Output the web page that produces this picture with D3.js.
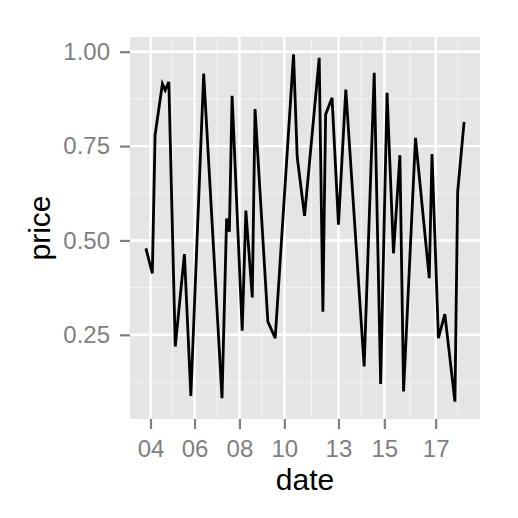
<!DOCTYPE html>
<html>
<head>
<meta charset="utf-8">
<script src="https://cdn.jsdelivr.net/npm/d3@7"></script>
<style>
  body { margin: 0; background: #ffffff; }
  text { font-family: "Liberation Sans", Arial, Helvetica, sans-serif; }
</style>
</head>
<body>
<div id="chart"></div>
<script>
// time series
var dates = [
  "2014-12-04 11:00", "2014-12-04 18:00", "2014-12-04 21:00", "2014-12-05 05:00",
  "2014-12-05 08:00", "2014-12-05 12:00", "2014-12-05 19:00", "2014-12-06 05:00",
  "2014-12-06 12:00", "2014-12-07 02:00", "2014-12-07 22:00", "2014-12-08 03:00",
  "2014-12-08 06:00", "2014-12-08 09:00", "2014-12-08 20:00", "2014-12-09 00:00",
  "2014-12-09 07:00", "2014-12-09 10:00", "2014-12-10 00:00", "2014-12-10 08:00",
  "2014-12-11 04:00", "2014-12-11 08:00", "2014-12-11 16:00", "2014-12-12 08:00",
  "2014-12-12 12:00", "2014-12-12 15:00", "2014-12-12 22:00", "2014-12-13 05:00",
  "2014-12-13 13:00", "2014-12-14 09:00", "2014-12-14 20:00", "2014-12-15 03:00",
  "2014-12-15 10:00", "2014-12-15 17:00", "2014-12-16 00:00", "2014-12-16 04:00",
  "2014-12-16 17:00", "2014-12-17 08:00", "2014-12-17 11:00", "2014-12-17 18:00",
  "2014-12-18 01:00", "2014-12-18 12:00", "2014-12-18 15:00", "2014-12-18 22:00"
];
var prices = [
  0.479, 0.413, 0.779, 0.915, 0.898, 0.920, 0.219, 0.464,
  0.088, 0.942, 0.082, 0.558, 0.523, 0.883, 0.261, 0.579,
  0.349, 0.848, 0.285, 0.241, 0.993, 0.721, 0.565, 0.984,
  0.311, 0.834, 0.878, 0.542, 0.900, 0.166, 0.944, 0.120,
  0.891, 0.466, 0.726, 0.100, 0.772, 0.400, 0.729, 0.241,
  0.305, 0.073, 0.629, 0.814
];

// axis breaks
var xBreaks = ["2014-12-04 16:00", "2014-12-06 16:00", "2014-12-08 17:00", "2014-12-10 18:00",
               "2014-12-13 05:00", "2014-12-15 07:00", "2014-12-17 15:00"];
var yBreaks = [0.25, 0.50, 0.75, 1.00];

var parseTime = d3.utcParse("%Y-%m-%d %H:%M");

var svgWidth = 518;
var svgHeight = 518;
var margin = { top: 37, right: 38, bottom: 99, left: 130 };
var width = svgWidth - margin.left - margin.right;
var height = svgHeight - margin.top - margin.bottom;

var data = dates.map(function(d, i) {
  return { date: parseTime(d), price: prices[i] };
});

var svg = d3.select("#chart")
  .append("svg")
  .attr("width", svgWidth)
  .attr("height", svgHeight);

var chartGroup = svg.append("g")
  .attr("transform", `translate(${margin.left}, ${margin.top})`);

// ggplot style 5% expansion
var xExt = d3.extent(data, d => d.date.getTime());
var xPad = (xExt[1] - xExt[0]) * 0.05;
var xScale = d3.scaleUtc()
  .domain([new Date(xExt[0] - xPad), new Date(xExt[1] + xPad)])
  .range([0, width]);

var yExt = d3.extent(data, d => d.price);
var yPad = (yExt[1] - yExt[0]) * 0.05;
var yScale = d3.scaleLinear()
  .domain([yExt[0] - yPad, yExt[1] + yPad])
  .range([height, 0]);

var xMajor = xBreaks.map(parseTime);
var step = xMajor[1] - xMajor[0];
var xExtended = [new Date(xMajor[0] - step)].concat(xMajor, [new Date(+xMajor[xMajor.length - 1] + step)]);
var xMinor = d3.pairs(xExtended).map(p => new Date((+p[0] + +p[1]) / 2))
  .filter(d => d >= xScale.domain()[0] && d <= xScale.domain()[1]);
var yMinor = d3.pairs([0].concat(yBreaks)).map(p => (p[0] + p[1]) / 2);

// panel
chartGroup.append("rect")
  .attr("width", width)
  .attr("height", height)
  .attr("fill", "#e5e5e5");

chartGroup.selectAll(".xminor").data(xMinor).enter()
  .append("line")
  .attr("x1", d => xScale(d)).attr("x2", d => xScale(d))
  .attr("y1", 0).attr("y2", height)
  .attr("stroke", "#f2f2f2").attr("stroke-width", 1.2);

chartGroup.selectAll(".yminor").data(yMinor).enter()
  .append("line")
  .attr("x1", 0).attr("x2", width)
  .attr("y1", d => yScale(d)).attr("y2", d => yScale(d))
  .attr("stroke", "#f2f2f2").attr("stroke-width", 1.2);

chartGroup.selectAll(".xmajor").data(xMajor).enter()
  .append("line")
  .attr("x1", d => xScale(d)).attr("x2", d => xScale(d))
  .attr("y1", 0).attr("y2", height)
  .attr("stroke", "#ffffff").attr("stroke-width", 2.4);

chartGroup.selectAll(".ymajor").data(yBreaks).enter()
  .append("line")
  .attr("x1", 0).attr("x2", width)
  .attr("y1", d => yScale(d)).attr("y2", d => yScale(d))
  .attr("stroke", "#ffffff").attr("stroke-width", 2.4);

// the line
var line = d3.line()
  .x(d => xScale(d.date))
  .y(d => yScale(d.price));

chartGroup.append("path")
  .datum(data)
  .attr("d", line)
  .attr("fill", "none")
  .attr("stroke", "#000000")
  .attr("stroke-width", 2.8)
  .attr("stroke-linejoin", "miter");

// axes
var bottomAxis = d3.axisBottom(xScale)
  .tickValues(xMajor)
  .tickFormat(d3.utcFormat("%d"))
  .tickSize(10)
  .tickPadding(11);

var leftAxis = d3.axisLeft(yScale)
  .tickValues(yBreaks)
  .tickFormat(d3.format(".2f"))
  .tickSize(10)
  .tickPadding(10);

var xAxisG = chartGroup.append("g")
  .attr("transform", `translate(0, ${height})`)
  .call(bottomAxis);

var yAxisG = chartGroup.append("g")
  .call(leftAxis);

[xAxisG, yAxisG].forEach(function(g) {
  g.select(".domain").remove();
  g.selectAll(".tick line").attr("stroke", "#7f7f7f").attr("stroke-width", 2.2);
  g.selectAll(".tick text")
    .attr("fill", "#7f7f7f")
    .attr("font-size", 24)
    .attr("font-family", "Liberation Sans, Arial, sans-serif");
});

// titles
svg.append("text")
  .attr("x", margin.left + width / 2)
  .attr("y", 490)
  .attr("text-anchor", "middle")
  .attr("font-size", 30)
  .attr("fill", "#000000")
  .text("date");

svg.append("text")
  .attr("transform", "rotate(-90)")
  .attr("x", -(margin.top + height / 2))
  .attr("y", 50)
  .attr("text-anchor", "middle")
  .attr("font-size", 30)
  .attr("fill", "#000000")
  .text("price");
</script>
</body>
</html>
